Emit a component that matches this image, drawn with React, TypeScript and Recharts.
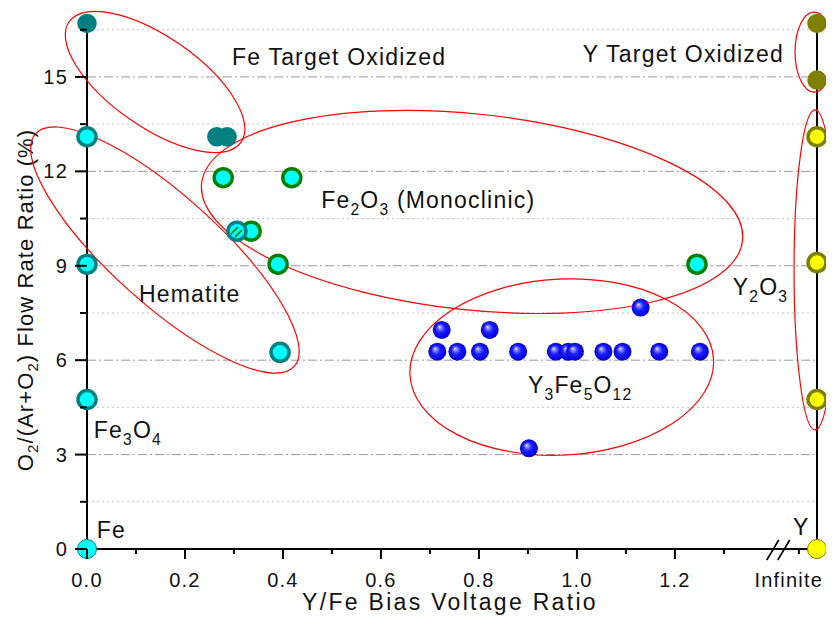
import React from 'react'
import { ScatterChart, Scatter, XAxis, YAxis, ReferenceLine, ReferenceDot, Label } from 'recharts'

const FONT = '"Liberation Sans", Arial, sans-serif'

// x position used for the "Infinite" column and the axis break
const X_INF = 1.49
const X_BREAK = 1.414

const xMajorTicks = [0, 0.2, 0.4, 0.6, 0.8, 1.0, 1.2]
const xMinorTicks = [0.1, 0.3, 0.5, 0.7, 0.9, 1.1, 1.3, 1.453]
const yMajorTicks = [0, 3, 6, 9, 12, 15]
const yMinorTicks = [1.5, 4.5, 7.5, 10.5, 13.5, 16.5]
const rightTicks = [0, 1, 2, 3, 4, 5, 6, 7, 8, 9, 10]

// measured points
const feMetal = [{ x: 0, y: 0 }]
const feTargetOxidized = [
  { x: 0, y: 16.7 },
  { x: 0.265, y: 13.1 },
  { x: 0.286, y: 13.1 },
]
const feOxides = [
  { x: 0, y: 13.1 },
  { x: 0, y: 9.05 },
  { x: 0, y: 4.75 },
  { x: 0.394, y: 6.25 },
]
const fe2o3Mono = [
  { x: 0.278, y: 11.8 },
  { x: 0.418, y: 11.8 },
  { x: 0.335, y: 10.1 },
  { x: 0.39, y: 9.05 },
  { x: 1.245, y: 9.05 },
]
const mixedPhase = [{ x: 0.306, y: 10.1 }]
const yig = [
  { x: 0.715, y: 6.27 },
  { x: 0.756, y: 6.27 },
  { x: 0.802, y: 6.27 },
  { x: 0.88, y: 6.27 },
  { x: 0.957, y: 6.27 },
  { x: 0.982, y: 6.27 },
  { x: 0.996, y: 6.27 },
  { x: 1.054, y: 6.27 },
  { x: 1.093, y: 6.27 },
  { x: 1.168, y: 6.27 },
  { x: 1.251, y: 6.27 },
  { x: 0.724, y: 6.96 },
  { x: 0.822, y: 6.96 },
  { x: 1.13, y: 7.67 },
  { x: 0.902, y: 3.2 },
]
const yTargetOxidized = [
  { x: X_INF, y: 16.7 },
  { x: X_INF, y: 14.9 },
]
const y2o3 = [
  { x: X_INF, y: 13.1 },
  { x: X_INF, y: 9.1 },
  { x: X_INF, y: 4.75 },
]
const yMetal = [{ x: X_INF, y: 0 }]

// phase regions (centre in data units, radii in px)
const regions = [
  { x: 0.139, y: 14.84, rx: 105, ry: 45, angle: 35 },
  { x: 0.159, y: 9.5, rx: 174, ry: 54, angle: 42 },
  { x: 0.786, y: 10.71, rx: 272, ry: 98, angle: 6 },
  { x: 0.969, y: 5.78, rx: 152, ry: 88, angle: -3 },
  { x: 1.484, y: 15.79, rx: 19, ry: 40, angle: 0 },
  { x: 1.486, y: 8.87, rx: 21, ry: 160, angle: 0 },
]

// text labels, [text, subscript?]
const notes: { x: number; y: number; parts: [string, boolean?][] }[] = [
  { x: 0.296, y: 15.38, parts: [['Fe Target Oxidized']] },
  { x: 1.012, y: 15.48, parts: [['Y Target Oxidized']] },
  { x: 0.478, y: 10.84, parts: [['Fe'], ['2', true], ['O'], ['3', true], [' (Monoclinic)']] },
  { x: 0.106, y: 7.85, parts: [['Hematite']] },
  { x: 0.9, y: 4.96, parts: [['Y'], ['3', true], ['Fe'], ['5', true], ['O'], ['12', true]] },
  { x: 1.318, y: 8.07, parts: [['Y'], ['2', true], ['O'], ['3', true]] },
  { x: 0.014, y: 3.53, parts: [['Fe'], ['3', true], ['O'], ['4', true]] },
  { x: 0.02, y: 0.35, parts: [['Fe']] },
  { x: 1.441, y: 0.44, parts: [['Y']] },
]

const circle = (fill: string, stroke: string, r: number, sw: number) => (p: any) =>
  <circle cx={p.cx} cy={p.cy} r={r} fill={fill} stroke={stroke} strokeWidth={sw} />

const sphere = (p: any) => <circle cx={p.cx} cy={p.cy} r={9} fill="url(#blueSphere)" />

const hatched = (p: any) => (
  <g>
    <circle cx={p.cx} cy={p.cy} r={9} fill="#00ffff" stroke="#008080" strokeWidth={3.5} />
    <line x1={p.cx - 6} y1={p.cy + 3} x2={p.cx + 1} y2={p.cy - 4} stroke="#008000" strokeWidth={1.5} />
    <line x1={p.cx - 2} y1={p.cy + 6} x2={p.cx + 5} y2={p.cy - 1} stroke="#008000" strokeWidth={1.5} />
  </g>
)

function Parts({ parts, size }: { parts: [string, boolean?][]; size: number }) {
  let down = false
  return (
    <>
      {parts.map(([t, sub], i) => {
        let dy = 0
        if (sub && !down) { dy = size * 0.3; down = true }
        else if (!sub && down) { dy = -size * 0.3; down = false }
        return (
          <tspan key={i} dy={dy} fontSize={sub ? size * 0.68 : size}>{t}</tspan>
        )
      })}
    </>
  )
}

const renderXTick = ({ x, y, payload }: any) => {
  const v = payload.value
  const major = xMajorTicks.includes(v)
  const inf = v === X_INF
  return (
    <g>
      {!inf && <path d={`M${x},${y}V${y + (major ? 10 : 5)}`} stroke="#000" strokeWidth={2} fill="none" />}
      {major && (
        <text x={x} y={y + 38} textAnchor="middle" fontSize={20} letterSpacing={1.2} fontFamily={FONT} fill="#111">
          {v.toFixed(1)}
        </text>
      )}
      {inf && (
        <text x={x + 6} y={y + 38} textAnchor="end" fontSize={20} letterSpacing={1.2} fontFamily={FONT} fill="#111">
          Infinite
        </text>
      )}
    </g>
  )
}

const renderYTick = ({ x, y, payload }: any) => {
  const v = payload.value
  const major = yMajorTicks.includes(v)
  return (
    <g>
      <path d={`M${x - (major ? 12 : 7)},${y}H${x}`} stroke="#000" strokeWidth={2} fill="none" />
      {major && (
        <text x={x - 19} y={y + 7} textAnchor="end" fontSize={20} letterSpacing={1.2} fontFamily={FONT} fill="#111">
          {v}
        </text>
      )}
    </g>
  )
}

const renderRightTick = ({ x, y, payload }: any) => {
  const major = payload.value % 2 === 0
  return <path d={`M${x},${y}H${x + (major ? 13 : 6)}`} stroke="#000" strokeWidth={2} fill="none" />
}

function YTitle({ viewBox }: any) {
  const cx = viewBox.x + 17
  const cy = 292
  return (
    <text x={cx} y={cy} transform={`rotate(-90 ${cx} ${cy})`} textAnchor="middle" dominantBaseline="central"
      fontSize={22} letterSpacing={1.1} fontFamily={FONT} fill="#111">
      <Parts size={22} parts={[['O'], ['2', true], ['/(Ar+O'], ['2', true], [') Flow Rate Ratio (%)']]} />
    </text>
  )
}

function XTitle({ viewBox }: any) {
  return (
    <text x={viewBox.x + viewBox.width / 2 - 2} y={602} textAnchor="middle" fontSize={23} letterSpacing={2.3}
      fontFamily={FONT} fill="#111">
      Y/Fe Bias Voltage Ratio
    </text>
  )
}

const axisBreak = (p: any) => (
  <g stroke="#000" strokeWidth={1.6}>
    <line x1={p.cx - 13} y1={p.cy + 11} x2={p.cx - 1} y2={p.cy - 9} />
    <line x1={p.cx - 2} y1={p.cy + 11} x2={p.cx + 10} y2={p.cy - 9} />
  </g>
)

export default function App() {
  return (
    <div style={{ width: 826, height: 616 }}>
      <svg width={0} height={0} style={{ position: 'absolute' }}>
        <defs>
          <radialGradient id="blueSphere" cx="50%" cy="50%" r="50%" fx="36%" fy="32%">
            <stop offset="0%" stopColor="#e6e6ff" />
            <stop offset="18%" stopColor="#8c8cff" />
            <stop offset="50%" stopColor="#1c1cff" />
            <stop offset="100%" stopColor="#0000d0" />
          </radialGradient>
        </defs>
      </svg>
      <ScatterChart width={826} height={616} margin={{ top: 6, right: 0, bottom: 0, left: 0 }}>
        <XAxis type="number" dataKey="x" domain={[0, X_INF]}
          ticks={[...xMajorTicks, ...xMinorTicks, X_INF].sort((a, b) => a - b)} interval={0}
          tick={renderXTick} tickLine={false} tickSize={0} tickMargin={0} height={75}
          axisLine={{ stroke: '#000', strokeWidth: 2 }}>
          <Label content={<XTitle />} />
        </XAxis>
        <YAxis yAxisId="left" type="number" dataKey="y" domain={[0, 17]}
          ticks={[...yMajorTicks, ...yMinorTicks].sort((a, b) => a - b)} interval={0}
          tick={renderYTick} tickLine={false} tickSize={0} tickMargin={0} width={79}
          axisLine={{ stroke: '#000', strokeWidth: 2 }}>
          <Label content={<YTitle />} />
        </YAxis>
        <YAxis yAxisId="right" orientation="right" type="number" domain={[0, 10]} ticks={rightTicks}
          interval={0} tick={renderRightTick} tickLine={false} tickSize={0} tickMargin={0} width={17}
          axisLine={{ stroke: '#000', strokeWidth: 2 }} />

        {yMinorTicks.map((v) => (
          <ReferenceLine key={'m' + v} yAxisId="left" y={v} stroke="#c4c4c4" strokeDasharray="2 3" />
        ))}
        {yMajorTicks.filter((v) => v > 0).map((v) => (
          <ReferenceLine key={'M' + v} yAxisId="left" y={v} stroke="#999" strokeDasharray="9 3 2 3" />
        ))}

        {regions.map((e, i) => (
          <ReferenceDot key={'e' + i} yAxisId="left" x={e.x} y={e.y} r={1} ifOverflow="visible"
            shape={(p: any) => (
              <ellipse cx={p.cx} cy={p.cy} rx={e.rx} ry={e.ry} fill="none" stroke="#ff0000" strokeWidth={1.2}
                transform={`rotate(${e.angle} ${p.cx} ${p.cy})`} />
            )} />
        ))}

        {notes.map((n, i) => (
          <ReferenceDot key={'t' + i} yAxisId="left" x={n.x} y={n.y} r={1} ifOverflow="visible"
            shape={(p: any) => (
              <text x={p.cx} y={p.cy} fontSize={23} letterSpacing={1.2} fontFamily={FONT} fill="#111">
                <Parts size={23} parts={n.parts} />
              </text>
            )} />
        ))}

        <ReferenceDot yAxisId="left" x={X_BREAK} y={0} r={1} ifOverflow="visible" shape={axisBreak} />

        <Scatter yAxisId="left" data={feMetal} shape={circle('#00ffff', '#008080', 9.5, 1)} isAnimationActive={false} />
        <Scatter yAxisId="left" data={feTargetOxidized} shape={circle('#008080', '#008080', 9, 1.5)} isAnimationActive={false} />
        <Scatter yAxisId="left" data={feOxides} shape={circle('#00ffff', '#008080', 9, 3.5)} isAnimationActive={false} />
        <Scatter yAxisId="left" data={fe2o3Mono} shape={circle('#00ffff', '#008000', 9, 3.5)} isAnimationActive={false} />
        <Scatter yAxisId="left" data={mixedPhase} shape={hatched} isAnimationActive={false} />
        <Scatter yAxisId="left" data={yig} shape={sphere} isAnimationActive={false} />
        <Scatter yAxisId="left" data={yTargetOxidized} shape={circle('#808000', '#808000', 9, 1.5)} isAnimationActive={false} />
        <Scatter yAxisId="left" data={y2o3} shape={circle('#ffff00', '#808000', 9, 3.5)} isAnimationActive={false} />
        <Scatter yAxisId="left" data={yMetal} shape={circle('#ffff00', '#808000', 9.5, 1)} isAnimationActive={false} />
      </ScatterChart>
    </div>
  )
}
